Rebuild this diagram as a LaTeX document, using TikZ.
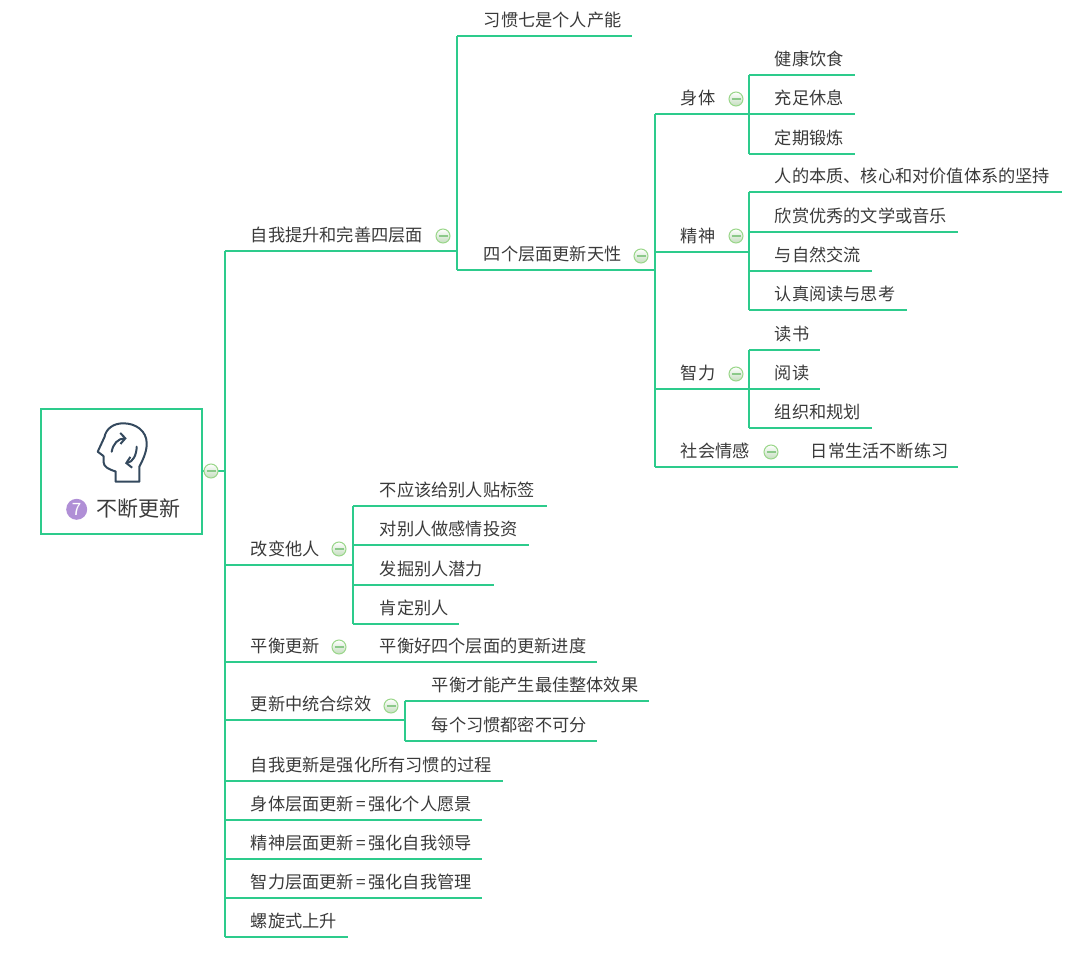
\documentclass[tikz,border=0pt]{standalone}
\usepackage{fontspec}
\usetikzlibrary{arrows.meta}
\setmainfont{Noto Sans CJK SC}
\definecolor{linkc}{HTML}{2DCB8C}
\definecolor{textc}{HTML}{3A3A3A}
\definecolor{headc}{HTML}{34495E}
\definecolor{badgec}{HTML}{B08FD6}
\definecolor{foldc}{HTML}{9AD68A}
\definecolor{foldf}{HTML}{C4DDBE}
\definecolor{foldm}{HTML}{8CC98A}
\newcommand{\eqs}{\hspace{2.5pt}=\hspace{2.5pt}}
\tikzset{
  x=1pt,y=-1pt,
  link/.style={draw=linkc,line width=2pt},
  topic/.style={anchor=south west,inner sep=0pt,outer sep=0pt,text depth=9.3pt,text height=15pt,font=\fontsize{17.2}{20}\selectfont,text=textc,align=left},
  fold/.style={circle,minimum size=14pt,inner sep=0pt,draw=foldc,line width=1pt,top color=white,bottom color=foldf,
    path picture={\draw[foldm,line width=1.6pt] ([xshift=-4.5pt]path picture bounding box.center) -- ([xshift=4.5pt]path picture bounding box.center);}},
  headline/.style={draw=headc,line width=2pt,line join=round,line cap=round},
  headarrow/.style={headline,-{Straight Barb[length=5pt,width=11pt]}},
}
\newcommand{\tp}[5]{\node[topic,text width=#4-#2+0.2] (#1) at (#2-0.2,#3) {#5};}
\begin{document}
\begin{tikzpicture}
\useasboundingbox (0,0) rectangle (1080,953);
% root
\node[draw=linkc,line width=2pt,minimum width=161pt,minimum height=125pt,inner sep=0pt] (root) at (121,471) {};
\node[font=\fontsize{21}{24}\selectfont,text=textc,inner sep=0pt,anchor=west] (rootlabel) at (95.8,508.5) {不断更新};
\node[circle,fill=badgec,inner sep=0pt,minimum size=21pt,font=\fontsize{17}{19}\selectfont,text=white] (badge) at (76.7,509.3) {7};
% head icon
\draw[headline] (115.7,481.7) -- (139.3,481.7) -- (139.3,466.7)
  .. controls (144,458) and (147,450) .. (146.7,443)
  .. controls (146.5,431) and (136,423.3) .. (123.3,423.3)
  .. controls (113,423.3) and (106,429) .. (104.5,437)
  -- (97.7,451.7) -- (103.5,456) -- (103.5,462)
  .. controls (104,467) and (108,469) .. (115.7,471.5) -- cycle;
\draw[headarrow] (111.7,451.7) .. controls (113,444) and (118,438.5) .. (126.7,438.3);
\draw[headarrow] (136.7,446.7) .. controls (136.5,455) and (133,462) .. (125,463.3);
% topics
\tp{a}{251}{251}{457}{自我提升和完善四层面}
\tp{b}{251}{565}{353}{改变他人}
\tp{c}{251}{662}{353}{平衡更新}
\tp{d}{251}{720}{405}{更新中统合综效}
\tp{e}{251}{781}{503}{自我更新是强化所有习惯的过程}
\tp{f}{251}{820}{482}{身体层面更新\eqs 强化个人愿景}
\tp{g}{251}{859}{482}{精神层面更新\eqs 强化自我领导}
\tp{h}{251}{898}{482}{智力层面更新\eqs 强化自我管理}
\tp{i}{251}{937}{348}{螺旋式上升}
\tp{a1}{484}{36}{632}{习惯七是个人产能}
\tp{a2}{484}{270}{655}{四个层面更新天性}
\tp{p1}{681}{114}{749}{身体}
\tp{p2}{681}{252}{749}{精神}
\tp{p3}{681}{389}{749}{智力}
\tp{p4}{681}{467}{797}{社会情感}
\tp{p41}{811}{467}{958}{日常生活不断练习}
\tp{q1}{775}{75}{855}{健康饮食}
\tp{q2}{775}{114}{855}{充足休息}
\tp{q3}{775}{154}{855}{定期锻炼}
\tp{r1}{775}{192}{1062}{人的本质、核心和对价值体系的坚持}
\tp{r2}{775}{232}{958}{欣赏优秀的文学或音乐}
\tp{r3}{775}{271}{872}{与自然交流}
\tp{r4}{775}{310}{907}{认真阅读与思考}
\tp{s1}{775}{350}{820}{读书}
\tp{s2}{775}{389}{820}{阅读}
\tp{s3}{775}{428}{872}{组织和规划}
\tp{b1}{380}{506}{547}{不应该给别人贴标签}
\tp{b2}{380}{545}{529}{对别人做感情投资}
\tp{b3}{380}{585}{494}{发掘别人潜力}
\tp{b4}{380}{624}{459}{肯定别人}
\tp{c1}{380}{662}{597}{平衡好四个层面的更新进度}
\tp{d1}{432}{701}{649}{平衡才能产生最佳整体效果}
\tp{d2}{432}{741}{597}{每个习惯都密不可分}
% hubs
\coordinate (trunk) at (225,471);
% connectors
\draw[link] (root.east) -- (trunk);
\draw[link] (trunk |- a.south) -- (trunk |- i.south);
\foreach \n in {a,b,c,d,e,f,g,h,i} \draw[link] (trunk |- \n.south) -- (\n.south east);
\draw[link] (a.south east |- a1.south) -- (a.south east |- a2.south);
\foreach \n in {a1,a2} \draw[link] (a.south east |- \n.south) -- (\n.south east);
\draw[link] (a2.south east |- p1.south) -- (a2.south east |- p4.south);
\foreach \n in {p1,p2,p3,p4} \draw[link] (a2.south east |- \n.south) -- (\n.south east);
\draw[link] (p4.south east) -- (p41.south east);
\draw[link] (p1.south east |- q1.south) -- (p1.south east |- q3.south);
\foreach \n in {q1,q2,q3} \draw[link] (p1.south east |- \n.south) -- (\n.south east);
\draw[link] (p2.south east |- r1.south) -- (p2.south east |- r4.south);
\foreach \n in {r1,r2,r3,r4} \draw[link] (p2.south east |- \n.south) -- (\n.south east);
\draw[link] (p3.south east |- s1.south) -- (p3.south east |- s3.south);
\foreach \n in {s1,s2,s3} \draw[link] (p3.south east |- \n.south) -- (\n.south east);
\draw[link] (b.south east |- b1.south) -- (b.south east |- b4.south);
\foreach \n in {b1,b2,b3,b4} \draw[link] (b.south east |- \n.south) -- (\n.south east);
\draw[link] (c.south east) -- (c1.south east);
\draw[link] (d.south east |- d1.south) -- (d.south east |- d2.south);
\foreach \n in {d1,d2} \draw[link] (d.south east |- \n.south) -- (\n.south east);
% fold markers
\node[fold] (f0) at (211,471) {};
\node[fold] (fa) at (443,236) {};
\node[fold] (fa2) at (641,256) {};
\node[fold] (fp1) at (736,99) {};
\node[fold] (fp2) at (736,236) {};
\node[fold] (fp3) at (736,374) {};
\node[fold] (fp4) at (771,452) {};
\node[fold] (fb) at (339,549) {};
\node[fold] (fc) at (339,647) {};
\node[fold] (fd) at (391,706) {};
\end{tikzpicture}
\end{document}
